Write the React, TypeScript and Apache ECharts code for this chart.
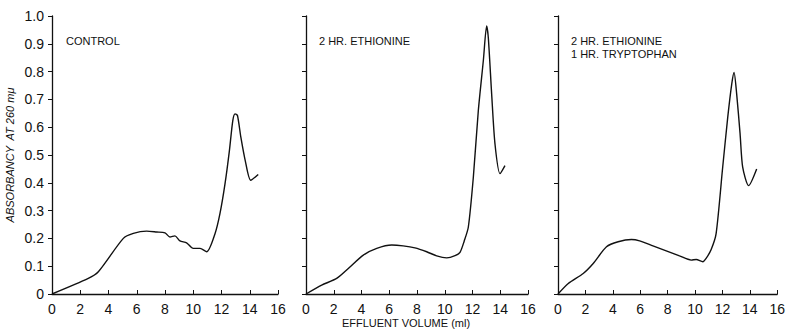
import React, { useEffect, useRef } from "react";
import * as echarts from "echarts";

// Effluent volume (ml) and absorbancy at 260 mμ
const controlX = [0, 2.57, 3.28, 5.05, 5.76, 6.7, 7.41, 8.0, 8.35, 8.7, 9.06, 9.53, 10.0, 10.48, 10.95, 11.54, 11.89, 12.25, 12.56, 12.8, 12.96, 13.13, 13.37, 13.68, 14.07, 14.6];
const controlY = [0, 0.056, 0.08, 0.2, 0.218, 0.226, 0.223, 0.22, 0.205, 0.209, 0.191, 0.184, 0.164, 0.164, 0.152, 0.217, 0.289, 0.397, 0.516, 0.624, 0.648, 0.642, 0.564, 0.48, 0.409, 0.43];

const ethX = [0, 1.13, 2.21, 3.05, 4.13, 5.1, 6.18, 7.0, 7.85, 8.7, 9.42, 10.14, 10.74, 11.1, 11.4, 11.7, 12.06, 12.42, 12.78, 13.02, 13.14, 13.38, 13.62, 13.98, 14.34];
const ethY = [0, 0.032, 0.056, 0.092, 0.14, 0.164, 0.176, 0.173, 0.166, 0.152, 0.137, 0.13, 0.138, 0.15, 0.19, 0.241, 0.42, 0.66, 0.839, 0.964, 0.922, 0.72, 0.54, 0.433, 0.462];

const tryX = [0, 0.75, 1.84, 2.57, 3.54, 4.39, 5.36, 5.96, 6.93, 7.9, 8.87, 9.72, 10.09, 10.57, 10.81, 11.18, 11.54, 12.02, 12.39, 12.68, 12.85, 13.04, 13.29, 13.48, 13.91, 14.5];
const tryY = [0, 0.038, 0.074, 0.11, 0.17, 0.188, 0.196, 0.191, 0.173, 0.155, 0.137, 0.122, 0.124, 0.116, 0.128, 0.16, 0.217, 0.456, 0.636, 0.755, 0.797, 0.72, 0.576, 0.456, 0.39, 0.45];

const panelTitles = [["CONTROL"], ["2 HR. ETHIONINE"], ["2 HR. ETHIONINE", "1 HR. TRYPTOPHAN"]];
const xTitle = "EFFLUENT VOLUME (ml)";
const yTitle = "ABSORBANCY  AT 260 mμ";

const FONT = "Liberation Sans, Arial, sans-serif";

export default function App() {
  const ref = useRef<HTMLDivElement>(null);
  useEffect(() => {
    if (!ref.current) return;
    const chart = echarts.init(ref.current, null, { renderer: "svg" });
    const grids = [
      { left: 52, width: 226, top: 16, height: 278 },
      { left: 306, width: 222, top: 16, height: 278 },
      { left: 558, width: 220, top: 16, height: 278 },
    ];
    const seriesData = [
      controlX.map((x, i) => [x, controlY[i]]),
      ethX.map((x, i) => [x, ethY[i]]),
      tryX.map((x, i) => [x, tryY[i]]),
    ];
    const axisLine = { lineStyle: { color: "#111", width: 1.3 } };
    const option: any = {
      animation: false,
      backgroundColor: "#fff",
      grid: grids,
      xAxis: grids.map((_, i) => ({
        type: "value",
        gridIndex: i,
        min: 0,
        max: 16,
        interval: 2,
        axisLine,
        axisTick: { inside: true, length: 4, lineStyle: { color: "#111" } },
        axisLabel: { color: "#111", fontSize: 14, fontFamily: FONT, margin: 8 },
        splitLine: { show: false },
      })),
      yAxis: grids.map((_, i) => ({
        type: "value",
        gridIndex: i,
        min: 0,
        max: 1,
        interval: 0.1,
        axisLine: { show: true, ...axisLine },
        axisTick: { show: true, length: 4, lineStyle: { color: "#111" } },
        axisLabel: {
          show: i === 0,
          color: "#111",
          fontSize: 14,
          fontFamily: FONT,
          margin: 8,
          formatter: (v: number) => (v === 0 ? "0" : v.toFixed(1)),
        },
        splitLine: { show: false },
        name: i === 0 ? yTitle : "",
        nameLocation: "middle",
        nameGap: 37,
        nameRotate: 90,
        nameTextStyle: { color: "#111", fontSize: 11, fontStyle: "italic", fontFamily: FONT },
      })),
      series: seriesData.map((d, i) => ({
        type: "line",
        xAxisIndex: i,
        yAxisIndex: i,
        data: d,
        smooth: 0.25,
        symbol: "none",
        lineStyle: { color: "#111", width: 1.4 },
      })),
      graphic: [
        ...panelTitles.flatMap((lines, i) =>
          lines.map((t, j) => ({
            type: "text",
            left: [66, 319, 571][i],
            top: 35 + j * 13,
            style: { text: t, fontSize: 11, fontFamily: FONT, fill: "#111" },
          }))
        ),
        {
          type: "text",
          x: 406,
          y: 317,
          style: { text: xTitle, fontSize: 11, fontFamily: FONT, fill: "#111", align: "center" },
        },
      ],
    };
    chart.setOption(option);
    return () => chart.dispose();
  }, []);
  return (
    <div
      ref={ref}
      style={{ position: "fixed", left: 0, top: 0, width: 788, height: 334, background: "#fff" }}
    />
  );
}
